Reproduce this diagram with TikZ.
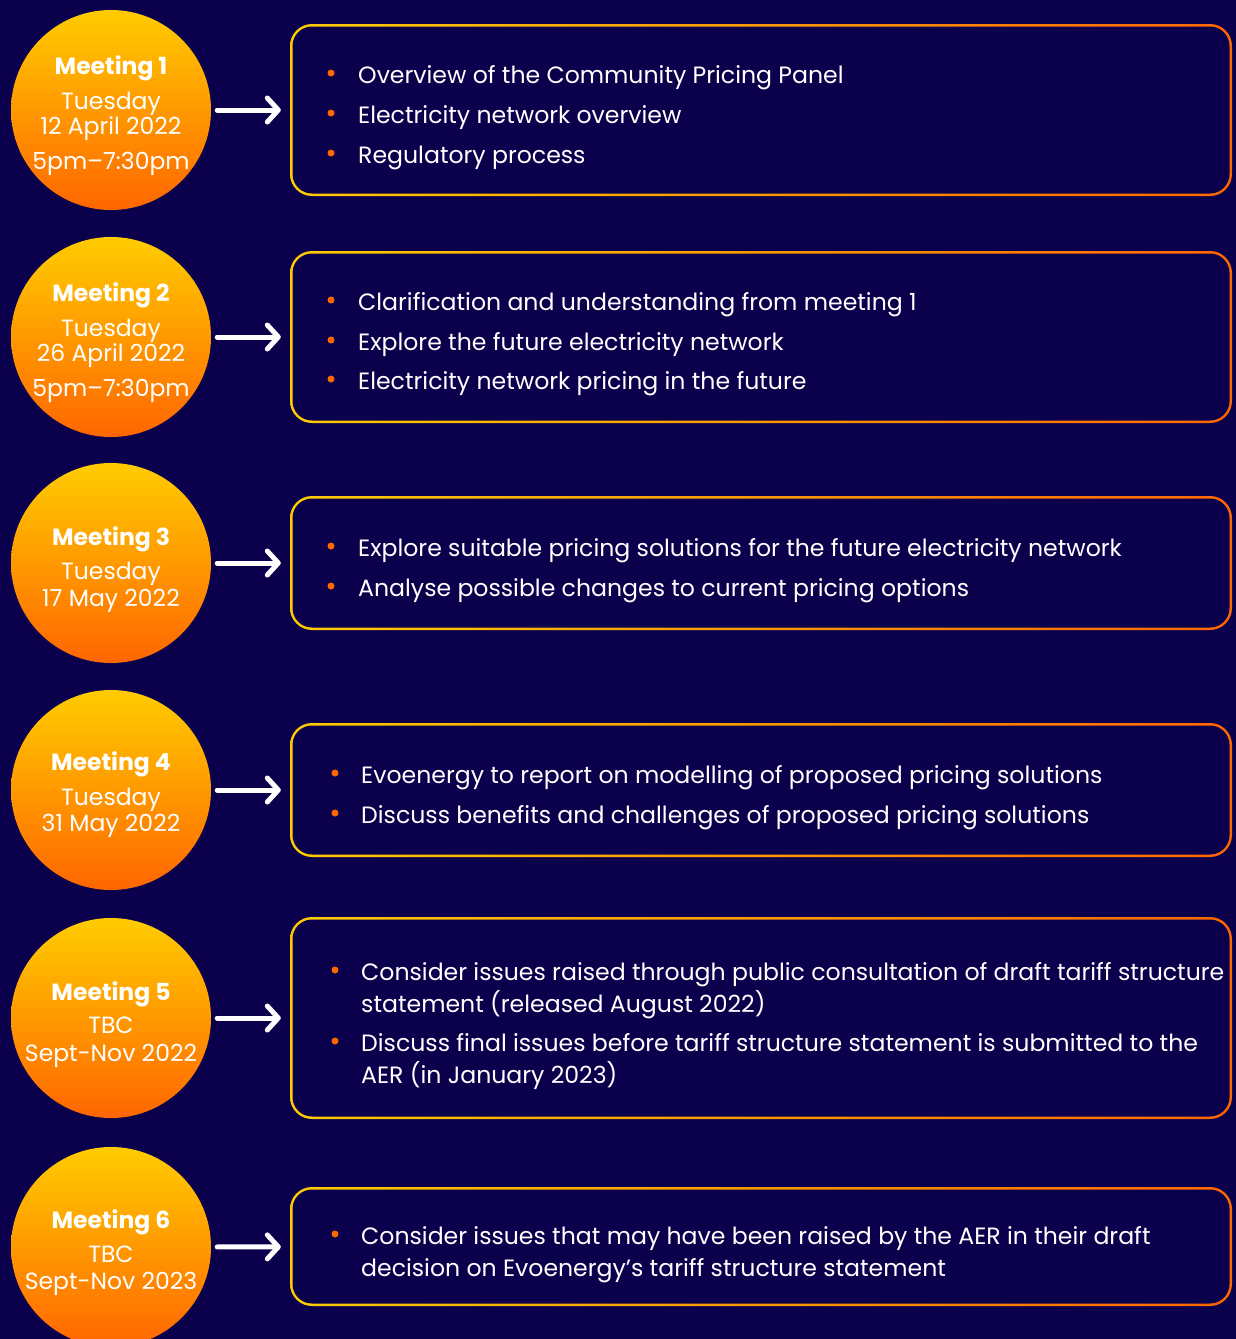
\documentclass[tikz,border=0pt]{standalone}
\usepackage{fontspec}
\setmainfont{Poppins}
\usetikzlibrary{arrows.meta}

\definecolor{navy}{RGB}{10,0,76}
\definecolor{sunyel}{RGB}{255,204,0}
\definecolor{sunorg}{RGB}{255,102,0}

\tikzset{
    meet/.style = {circle, minimum size = 200pt, inner sep = 0pt,
        top color = sunyel, bottom color = sunorg},
    mhead/.style = {anchor = base, inner sep = 0pt, text = white,
        font = \fontsize{23.5}{28}\selectfont\bfseries},
    mtext/.style = {anchor = base, inner sep = 0pt, text = white,
        font = \fontsize{23.5}{28}\selectfont},
    topic/.style = {rectangle, rounded corners = 22pt, minimum width = 942pt,
        inner sep = 0pt, left color = sunyel, right color = sunorg,
        path picture = {\fill [navy, rounded corners = 19.5pt]
            ([shift = {(2.5pt, 2.5pt)}] path picture bounding box.south west) rectangle
            ([shift = {(-2.5pt, -2.5pt)}] path picture bounding box.north east);}},
    item/.style = {anchor = base west, inner sep = 0pt, text = white, align = left,
        font = \fontsize{23.6}{32}\selectfont},
    link/.style = {draw = white, line width = 5pt, line cap = round,
        -{Straight Barb[length = 11pt, width = 24pt, round]},
        shorten < = 6pt, shorten > = 9pt}
}
\newcommand{\dotat}[2]{\fill [sunorg] (#1, #2) circle [radius = 3.5pt];}

\begin{document}
\begin{tikzpicture}[x = 1pt, y = 1pt]
    \useasboundingbox (0, 0) rectangle (1236, -1339);
    \fill [navy] (0, 0) rectangle (1236, -1339);

    % meetings
    \node (m1) [meet] at (111, -110) {};
    \node (m1a) [mhead] at (111, -74) {Meeting 1};
    \node (m1b) [mtext] at (111, -109) {Tuesday};
    \node (m1c) [mtext] at (111, -134) {12 April 2022};
    \node (m1d) [mtext] at (111, -169) {5pm–7:30pm};

    \node (m2) [meet] at (111, -337) {};
    \node (m2a) [mhead] at (111, -301) {Meeting 2};
    \node (m2b) [mtext] at (111, -336) {Tuesday};
    \node (m2c) [mtext] at (111, -361) {26 April 2022};
    \node (m2d) [mtext] at (111, -396) {5pm–7:30pm};

    \node (m3) [meet] at (111, -563) {};
    \node (m3a) [mhead] at (111, -545) {Meeting 3};
    \node (m3b) [mtext] at (111, -579) {Tuesday};
    \node (m3c) [mtext] at (111, -606) {17 May 2022};

    \node (m4) [meet] at (111, -790) {};
    \node (m4a) [mhead] at (111, -770) {Meeting 4};
    \node (m4b) [mtext] at (111, -805) {Tuesday};
    \node (m4c) [mtext] at (111, -831) {31 May 2022};

    \node (m5) [meet] at (111, -1018) {};
    \node (m5a) [mhead] at (111, -1000) {Meeting 5};
    \node (m5b) [mtext] at (111, -1033) {TBC};
    \node (m5c) [mtext] at (111, -1061) {Sept-Nov 2022};

    \node (m6) [meet] at (111, -1247) {};
    \node (m6a) [mhead] at (111, -1228) {Meeting 6};
    \node (m6b) [mtext] at (111, -1262) {TBC};
    \node (m6c) [mtext] at (111, -1289) {Sept-Nov 2023};

    % topic boxes
    \node (b1) [topic, minimum height = 172pt] at (761, -110) {};
    \node (b2) [topic, minimum height = 172pt] at (761, -337) {};
    \node (b3) [topic, minimum height = 134pt] at (761, -563) {};
    \node (b4) [topic, minimum height = 134pt] at (761, -790) {};
    \node (b5) [topic, minimum height = 202pt] at (761, -1018) {};
    \node (b6) [topic, minimum height = 119pt] at (761, -1246.5) {};

    % arrows
    \foreach \i in {1, ..., 6}
        \draw [link] (m\i) -- (b\i);

    % bullet points (two-line items sit on their last baseline)
    \dotat{331}{-73} \node (b1a) [item] at (358, -83) {Overview of the Community Pricing Panel};
    \dotat{331}{-113} \node (b1b) [item] at (358, -123) {Electricity network overview};
    \dotat{331}{-153} \node (b1c) [item] at (358, -163) {Regulatory process};

    \dotat{331}{-300} \node (b2a) [item] at (358, -310) {Clarification and understanding from meeting 1};
    \dotat{331}{-340} \node (b2b) [item] at (358, -350) {Explore the future electricity network};
    \dotat{331}{-379} \node (b2c) [item] at (358, -389) {Electricity network pricing in the future};

    \dotat{331}{-546} \node (b3a) [item] at (358, -556) {Explore suitable pricing solutions for the future electricity network};
    \dotat{331}{-586} \node (b3b) [item] at (358, -596) {Analyse possible changes to current pricing options};

    \dotat{335}{-773} \node (b4a) [item] at (361, -783) {Evoenergy to report on modelling of proposed pricing solutions};
    \dotat{335}{-813} \node (b4b) [item] at (361, -823) {Discuss benefits and challenges of proposed pricing solutions};

    \dotat{335}{-970} \node (b5a) [item] at (361, -1012) {Consider issues raised through public consultation of draft tariff structure\\statement (released August 2022)};
    \dotat{335}{-1041} \node (b5b) [item] at (361, -1083) {Discuss final issues before tariff structure statement is submitted to the\\AER (in January 2023)};

    \dotat{335}{-1234} \node (b6a) [item] at (361, -1276) {Consider issues that may have been raised by the AER in their draft\\decision on Evoenergy’s tariff structure statement};
\end{tikzpicture}
\end{document}
